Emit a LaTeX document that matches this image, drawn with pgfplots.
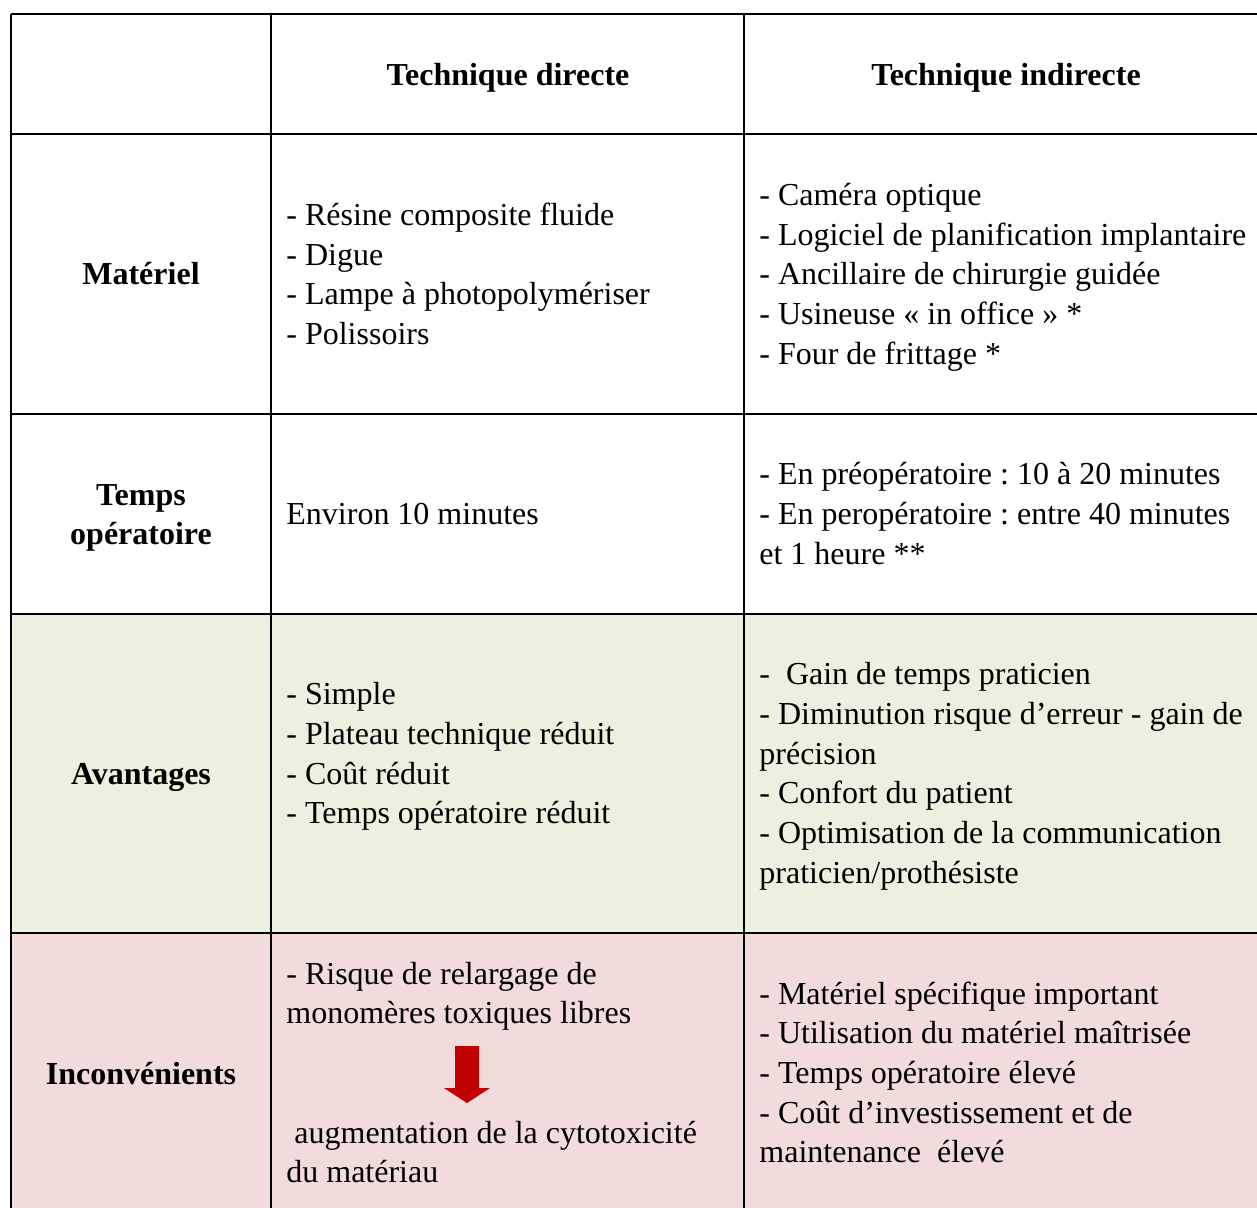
\documentclass[border=0pt]{standalone}
\usepackage{pgfplots}
\pgfplotsset{compat=1.18}
\usepackage{fontspec}
\setmainfont{Liberation Serif}
\frenchspacing
\definecolor{vert}{HTML}{EBF1DE}
\definecolor{rose}{HTML}{F2DCDB}
\definecolor{rouge}{HTML}{C00000}
\newcommand{\T}[3]{\node[anchor=base west,inner sep=0pt,font=\fontsize{16}{19}\selectfont] at (axis cs:#1,#2) {#3};}
\newcommand{\B}[3]{\node[anchor=base,inner sep=0pt,font=\fontsize{16}{19}\selectfont\bfseries] at (axis cs:#1,#2) {#3};}
\begin{document}
\begin{tikzpicture}
\begin{axis}[
  scale only axis, width=628.5pt, height=603.5pt,
  xmin=0, xmax=1257, ymin=0, ymax=1207, y dir=reverse,
  hide axis, clip=true]
% row backgrounds
\addplot[draw=none, fill=vert] coordinates {(11,614) (1270,614) (1270,933) (11,933)} -- cycle;
\addplot[draw=none, fill=rose] coordinates {(11,933) (1270,933) (1270,1220) (11,1220)} -- cycle;
% grid lines
\addplot[black, line width=1pt] coordinates {(11,14) (11,1220)};
\addplot[black, line width=1pt] coordinates {(271,14) (271,1220)};
\addplot[black, line width=1pt] coordinates {(744,14) (744,1220)};
\addplot[black, line width=1pt] coordinates {(11,14) (1270,14)};
\addplot[black, line width=1pt] coordinates {(11,134) (1270,134)};
\addplot[black, line width=1pt] coordinates {(11,414) (1270,414)};
\addplot[black, line width=1pt] coordinates {(11,614) (1270,614)};
\addplot[black, line width=1pt] coordinates {(11,933) (1270,933)};
% arrow
\addplot[draw=none, fill=rouge] coordinates {(455,1046) (479,1046) (479,1088) (490,1088) (467,1103) (444,1088) (455,1088)} -- cycle;
% headers
\B{508}{85}{Technique directe}
\B{1006}{85}{Technique indirecte}
\B{141}{284}{Matériel}
\B{141}{505}{Temps}
\B{141}{544}{opératoire}
\B{141}{784}{Avantages}
\B{141}{1084}{Inconvénients}
% column 2
\T{286}{225}{- Résine composite fluide}
\T{286}{265}{- Digue}
\T{286}{304}{- Lampe à photopolymériser}
\T{286}{344}{- Polissoirs}
\T{286}{524}{Environ 10 minutes}
\T{286}{704}{- Simple}
\T{286}{744}{- Plateau technique réduit}
\T{286}{784}{- Coût réduit}
\T{286}{823}{- Temps opératoire réduit}
\T{286}{984}{- Risque de relargage de}
\T{286}{1023}{monomères toxiques libres}
\T{294}{1143}{augmentation de la cytotoxicité}
\T{286}{1182}{du matériau}
% column 3
\T{759}{205}{- Caméra optique}
\T{759}{245}{- Logiciel de planification implantaire}
\T{759}{284}{- Ancillaire de chirurgie guidée}
\T{759}{324}{- Usineuse « in office » *}
\T{759}{364}{- Four de frittage *}
\T{759}{484}{- En préopératoire : 10 à 20 minutes}
\T{759}{524}{- En peropératoire : entre 40 minutes}
\T{759}{564}{et 1 heure **}
\T{759}{684}{-\ \ Gain de temps praticien}
\T{759}{724}{- Diminution risque d’erreur - gain de}
\T{759}{764}{précision}
\T{759}{803}{- Confort du patient}
\T{759}{843}{- Optimisation de la communication}
\T{759}{883}{praticien/prothésiste}
\T{759}{1004}{- Matériel spécifique important}
\T{759}{1043}{- Utilisation du matériel maîtrisée}
\T{759}{1083}{- Temps opératoire élevé}
\T{759}{1123}{- Coût d’investissement et de}
\T{759}{1162}{maintenance\ \ élevé}
\end{axis}
\pgfresetboundingbox
\useasboundingbox (current axis.south west) rectangle (current axis.north east);
\end{tikzpicture}
\end{document}
